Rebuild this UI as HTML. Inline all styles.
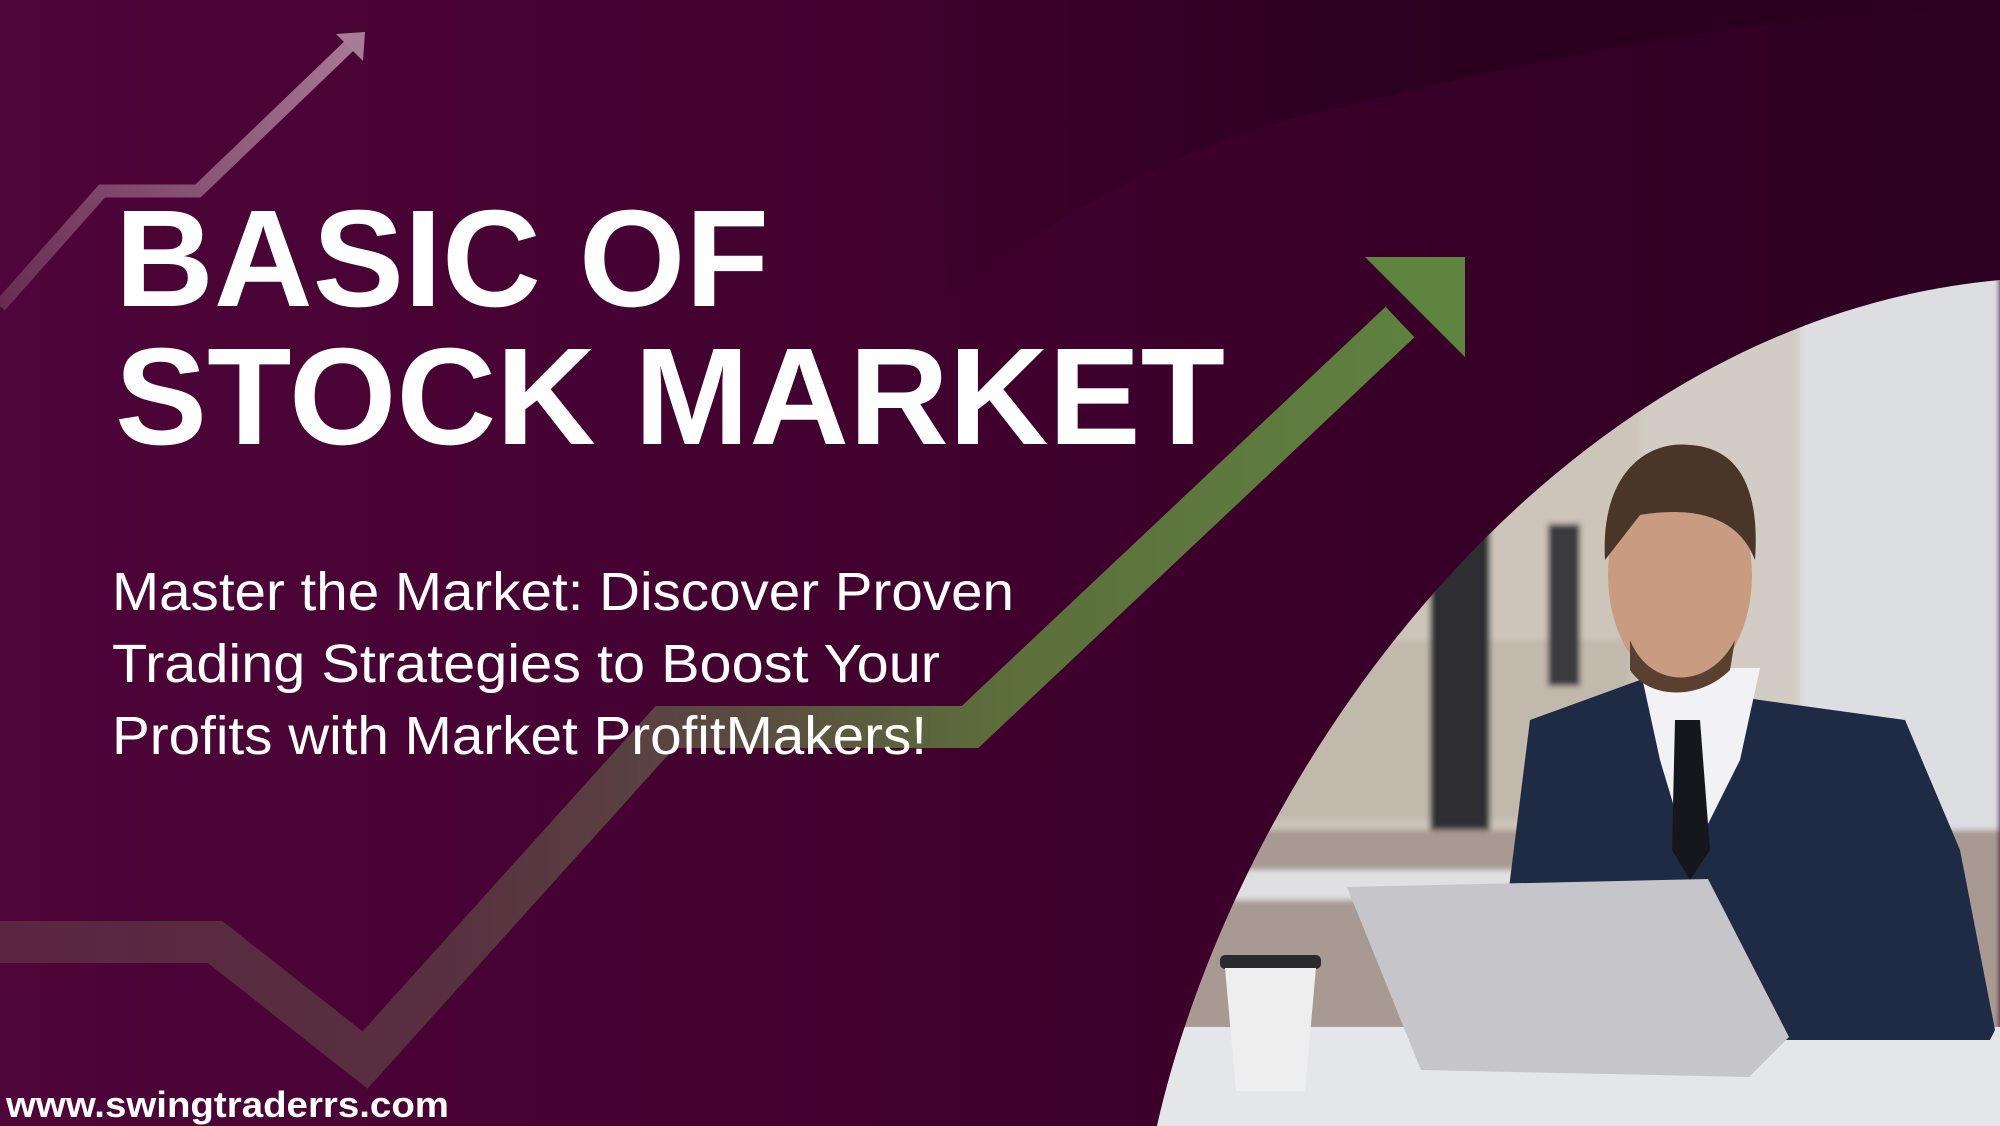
<!DOCTYPE html>
<html><head><meta charset="utf-8"><style>
html,body{margin:0;padding:0;width:2000px;height:1126px;overflow:hidden;background:#3a0029}
svg{display:block}
</style></head><body>
<svg width="2000" height="1126" viewBox="0 0 2000 1126" xmlns="http://www.w3.org/2000/svg">
<defs>
<linearGradient id="bg" x1="0" y1="0" x2="1" y2="0">
<stop offset="0" stop-color="#4e0539"/><stop offset="0.55" stop-color="#3e002c"/><stop offset="1" stop-color="#2c0020"/>
</linearGradient>
<linearGradient id="grn" gradientUnits="userSpaceOnUse" x1="0" y1="0" x2="1470" y2="0">
<stop offset="0" stop-color="#5a2540"/><stop offset="0.3" stop-color="#583040"/><stop offset="0.5" stop-color="#5a4a40"/><stop offset="0.68" stop-color="#5c6e3c"/><stop offset="1" stop-color="#5f8440"/>
</linearGradient>
<linearGradient id="pink" gradientUnits="userSpaceOnUse" x1="0" y1="300" x2="370" y2="30">
<stop offset="0" stop-color="#6a2c55"/><stop offset="1" stop-color="#a87c96"/>
</linearGradient>
<linearGradient id="darkfade" gradientUnits="userSpaceOnUse" x1="900" y1="0" x2="1500" y2="0">
<stop offset="0" stop-color="#2a001e" stop-opacity="0"/><stop offset="1" stop-color="#2a001e" stop-opacity="1"/>
</linearGradient>
<clipPath id="photoClip"><path d="M1157,1126 C1240,760 1560,320 2000,280 L2000,1126 Z"/></clipPath>
<filter id="blur"><feGaussianBlur stdDeviation="3"/></filter>
</defs>
<rect width="2000" height="1126" fill="url(#bg)"/>
<path d="M900,0 L2000,0 L2000,8 C1700,15 1450,80 1270,125 C1150,160 1050,220 950,300 Z" fill="url(#darkfade)"/>
<polyline points="0,306 102,191 198,191 350,45" fill="none" stroke="url(#pink)" stroke-width="13"/>
<polygon points="365,32 336,34 363,61" fill="#a87c96"/>
<polyline points="-10,942 215,942 365,1060 665,727 970,727 1400,322" fill="none" stroke="url(#grn)" stroke-width="42" stroke-linejoin="miter"/>
<polygon points="1465,257 1365,257 1465,357" fill="#5f8440"/>
<g clip-path="url(#photoClip)">
<g filter="url(#blur)">
<rect x="1150" y="270" width="850" height="860" fill="#cdc5ba"/>
<rect x="1800" y="270" width="200" height="600" fill="#dcdee2"/>
<rect x="1640" y="270" width="160" height="600" fill="#d2ccc4"/>
<rect x="1150" y="640" width="480" height="180" fill="#c2b9ad"/>
<rect x="1548" y="524" width="32" height="162" fill="#3a3a3e"/>
<rect x="1430" y="495" width="60" height="345" fill="#2e2e32"/>
<rect x="1150" y="830" width="850" height="200" fill="#a89a92"/>
<rect x="1150" y="870" width="400" height="30" fill="#e0e0e2"/>
</g>
<rect x="1150" y="1027" width="850" height="100" fill="#e4e6ea"/>
<polygon points="1490,1040 1530,720 1640,680 1760,700 1905,720 1960,850 1995,1030 1990,1040" fill="#1f2a44"/>
<polygon points="1640,668 1760,668 1740,760 1690,860 1660,760" fill="#f2f2f4"/>
<polygon points="1675,720 1700,720 1710,850 1690,880 1672,850" fill="#15171c"/>
<ellipse cx="1680" cy="575" rx="72" ry="110" fill="#c99b80"/>
<path d="M1605,560 C1600,470 1650,440 1690,445 C1740,448 1760,490 1755,560 C1740,520 1700,505 1640,515 Z" fill="#4a3628"/>
<path d="M1630,640 C1650,690 1710,690 1735,640 L1730,670 C1700,700 1650,700 1630,670 Z" fill="#5a4030"/>
<polygon points="1347,887 1708,879 1789,1037 1749,1077 1421,1070" fill="#c6c6ca"/>
<rect x="1220" y="955" width="101" height="14" rx="5" fill="#2a2a2c"/>
<polygon points="1225,968 1316,968 1305,1091 1236,1091" fill="#eeeeee"/>
</g>
<text x="115" y="306" font-family="Liberation Sans, sans-serif" font-weight="bold" font-size="138" fill="#ffffff" textLength="654" lengthAdjust="spacingAndGlyphs">BASIC OF</text>
<text x="115" y="444" font-family="Liberation Sans, sans-serif" font-weight="bold" font-size="138" fill="#ffffff" textLength="1110" lengthAdjust="spacingAndGlyphs">STOCK MARKET</text>
<text x="112" y="610" font-family="Liberation Sans, sans-serif" font-size="54" fill="#ffffff" textLength="902" lengthAdjust="spacingAndGlyphs">Master the Market: Discover Proven</text>
<text x="112" y="682" font-family="Liberation Sans, sans-serif" font-size="54" fill="#ffffff" textLength="828" lengthAdjust="spacingAndGlyphs">Trading Strategies to Boost Your</text>
<text x="112" y="754" font-family="Liberation Sans, sans-serif" font-size="54" fill="#ffffff" textLength="815" lengthAdjust="spacingAndGlyphs">Profits with Market ProfitMakers!</text>
<text x="6" y="1117" font-family="Liberation Sans, sans-serif" font-weight="bold" font-size="36" fill="#ffffff" textLength="443" lengthAdjust="spacingAndGlyphs">www.swingtraderrs.com</text>
</svg>
</body></html>
